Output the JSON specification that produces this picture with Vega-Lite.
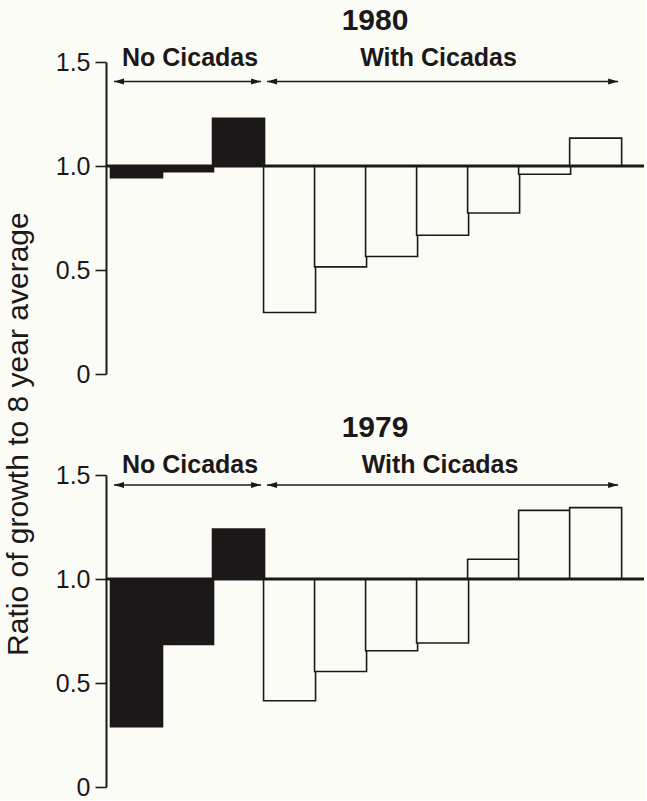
{
  "$schema": "https://vega.github.io/schema/vega-lite/v6.json",
  "background": "#fcfcf7",
  "padding": {"left": 4, "top": 6, "right": 0, "bottom": 0},
  "config": {
    "view": {"stroke": null},
    "font": "Liberation Sans",
    "axisY": {
      "domainColor": "#1c1819", "domainWidth": 2,
      "tickColor": "#1c1819", "tickWidth": 1.6, "tickSize": 11,
      "labelColor": "#1c1819", "labelFontSize": 25, "labelFont": "Liberation Sans",
      "labelPadding": 5, "grid": false
    }
  },
  "title": {"text": "Ratio of growth to 8 year average", "orient": "left", "anchor": "middle", "fontSize": 30, "fontWeight": "normal", "font": "Liberation Sans", "color": "#1c1819", "offset": 21, "dx": -31},
  "datasets": {
    "bars": [
      {"year": 1980, "pos": 1, "ratio": 0.944, "cicadas": "No"},
      {"year": 1980, "pos": 2, "ratio": 0.973, "cicadas": "No"},
      {"year": 1980, "pos": 3, "ratio": 1.229, "cicadas": "No"},
      {"year": 1980, "pos": 4, "ratio": 0.296, "cicadas": "With"},
      {"year": 1980, "pos": 5, "ratio": 0.515, "cicadas": "With"},
      {"year": 1980, "pos": 6, "ratio": 0.565, "cicadas": "With"},
      {"year": 1980, "pos": 7, "ratio": 0.667, "cicadas": "With"},
      {"year": 1980, "pos": 8, "ratio": 0.774, "cicadas": "With"},
      {"year": 1980, "pos": 9, "ratio": 0.96, "cicadas": "With"},
      {"year": 1980, "pos": 10, "ratio": 1.134, "cicadas": "With"},
      {"year": 1979, "pos": 1, "ratio": 0.29, "cicadas": "No"},
      {"year": 1979, "pos": 2, "ratio": 0.685, "cicadas": "No"},
      {"year": 1979, "pos": 3, "ratio": 1.24, "cicadas": "No"},
      {"year": 1979, "pos": 4, "ratio": 0.415, "cicadas": "With"},
      {"year": 1979, "pos": 5, "ratio": 0.555, "cicadas": "With"},
      {"year": 1979, "pos": 6, "ratio": 0.655, "cicadas": "With"},
      {"year": 1979, "pos": 7, "ratio": 0.692, "cicadas": "With"},
      {"year": 1979, "pos": 8, "ratio": 1.095, "cicadas": "With"},
      {"year": 1979, "pos": 9, "ratio": 1.33, "cicadas": "With"},
      {"year": 1979, "pos": 10, "ratio": 1.343, "cicadas": "With"}
    ],
    "groups": [
      {"year": 1980, "label": "No Cicadas", "first": 0.5, "last": 3.5, "mid": 2.05},
      {"year": 1980, "label": "With Cicadas", "first": 3.5, "last": 10.5, "mid": 6.92},
      {"year": 1979, "label": "No Cicadas", "first": 0.5, "last": 3.5, "mid": 2.05},
      {"year": 1979, "label": "With Cicadas", "first": 3.5, "last": 10.5, "mid": 6.95}
    ]
  },
  "align": "all",
  "bounds": "flush",
  "spacing": 101,
  "vconcat": [
    {
      "width": 538, "height": 312,
      "title": {"text": "1980", "fontSize": 30, "fontWeight": "bold", "font": "Liberation Sans", "color": "#1c1819", "anchor": "middle", "offset": 10},
      "layer": [
        {
          "data": {"name": "bars"},
          "transform": [{"filter": "datum.year == 1980"}],
          "mark": {"type": "bar", "size": 52, "stroke": "#1c1819", "strokeWidth": 1.6},
          "encoding": {
            "x": {"field": "pos", "type": "quantitative", "scale": {"domain": [0.5, 10.85], "nice": false, "zero": false}, "axis": null},
            "y": {"field": "ratio", "type": "quantitative", "scale": {"domain": [0, 1.5], "nice": false}, "axis": {"title": null, "values": [0, 0.5, 1, 1.5], "labelExpr": "datum.value == 0 ? '0' : format(datum.value, '.1f')"}},
            "y2": {"datum": 1},
            "fill": {"field": "cicadas", "type": "nominal", "scale": {"domain": ["No", "With"], "range": ["#1c1819", "#fcfcf7"]}, "legend": null}
          }
        },
        {
          "data": {"values": [{}]},
          "mark": {"type": "rule", "strokeWidth": 3, "color": "#1c1819"},
          "encoding": {"y": {"datum": 1, "type": "quantitative", "title": null}}
        },
        {
          "data": {"name": "groups"},
          "transform": [{"filter": "datum.year == 1980"}],
          "mark": {"type": "rule", "strokeWidth": 1.4, "color": "#1c1819", "xOffset": 3, "x2Offset": -3},
          "encoding": {
            "x": {"field": "first", "type": "quantitative", "axis": null},
            "x2": {"field": "last"},
            "y": {"datum": 1.406, "type": "quantitative", "title": null}
          }
        },
        {
          "data": {"name": "groups"},
          "transform": [{"filter": "datum.year == 1980"}],
          "mark": {"type": "point", "shape": "M0,0L2,-0.6L2,0.6Z", "size": 100, "filled": true, "opacity": 1, "color": "#1c1819", "xOffset": 3},
          "encoding": {
            "x": {"field": "first", "type": "quantitative", "axis": null},
            "y": {"datum": 1.406, "type": "quantitative", "title": null}
          }
        },
        {
          "data": {"name": "groups"},
          "transform": [{"filter": "datum.year == 1980"}],
          "mark": {"type": "point", "shape": "M0,0L-2,-0.6L-2,0.6Z", "size": 100, "filled": true, "opacity": 1, "color": "#1c1819", "xOffset": -3},
          "encoding": {
            "x": {"field": "last", "type": "quantitative", "axis": null},
            "y": {"datum": 1.406, "type": "quantitative", "title": null}
          }
        },
        {
          "data": {"name": "groups"},
          "transform": [{"filter": "datum.year == 1980"}],
          "mark": {"type": "text", "font": "Liberation Sans", "fontWeight": "bold", "fontSize": 25, "baseline": "alphabetic", "align": "center", "color": "#1c1819"},
          "encoding": {
            "x": {"field": "mid", "type": "quantitative", "axis": null},
            "y": {"datum": 1.48, "type": "quantitative", "title": null},
            "text": {"field": "label"}
          }
        }
      ]
    },
    {
      "width": 538, "height": 312,
      "title": {"text": "1979", "fontSize": 30, "fontWeight": "bold", "font": "Liberation Sans", "color": "#1c1819", "anchor": "middle", "offset": 10},
      "layer": [
        {
          "data": {"name": "bars"},
          "transform": [{"filter": "datum.year == 1979"}],
          "mark": {"type": "bar", "size": 52, "stroke": "#1c1819", "strokeWidth": 1.6},
          "encoding": {
            "x": {"field": "pos", "type": "quantitative", "scale": {"domain": [0.5, 10.85], "nice": false, "zero": false}, "axis": null},
            "y": {"field": "ratio", "type": "quantitative", "scale": {"domain": [0, 1.5], "nice": false}, "axis": {"title": null, "values": [0, 0.5, 1, 1.5], "labelExpr": "datum.value == 0 ? '0' : format(datum.value, '.1f')"}},
            "y2": {"datum": 1},
            "fill": {"field": "cicadas", "type": "nominal", "scale": {"domain": ["No", "With"], "range": ["#1c1819", "#fcfcf7"]}, "legend": null}
          }
        },
        {
          "data": {"values": [{}]},
          "mark": {"type": "rule", "strokeWidth": 3, "color": "#1c1819"},
          "encoding": {"y": {"datum": 1, "type": "quantitative", "title": null}}
        },
        {
          "data": {"name": "groups"},
          "transform": [{"filter": "datum.year == 1979"}],
          "mark": {"type": "rule", "strokeWidth": 1.4, "color": "#1c1819", "xOffset": 3, "x2Offset": -3},
          "encoding": {
            "x": {"field": "first", "type": "quantitative", "axis": null},
            "x2": {"field": "last"},
            "y": {"datum": 1.452, "type": "quantitative", "title": null}
          }
        },
        {
          "data": {"name": "groups"},
          "transform": [{"filter": "datum.year == 1979"}],
          "mark": {"type": "point", "shape": "M0,0L2,-0.6L2,0.6Z", "size": 100, "filled": true, "opacity": 1, "color": "#1c1819", "xOffset": 3},
          "encoding": {
            "x": {"field": "first", "type": "quantitative", "axis": null},
            "y": {"datum": 1.452, "type": "quantitative", "title": null}
          }
        },
        {
          "data": {"name": "groups"},
          "transform": [{"filter": "datum.year == 1979"}],
          "mark": {"type": "point", "shape": "M0,0L-2,-0.6L-2,0.6Z", "size": 100, "filled": true, "opacity": 1, "color": "#1c1819", "xOffset": -3},
          "encoding": {
            "x": {"field": "last", "type": "quantitative", "axis": null},
            "y": {"datum": 1.452, "type": "quantitative", "title": null}
          }
        },
        {
          "data": {"name": "groups"},
          "transform": [{"filter": "datum.year == 1979"}],
          "mark": {"type": "text", "font": "Liberation Sans", "fontWeight": "bold", "fontSize": 25, "baseline": "alphabetic", "align": "center", "color": "#1c1819"},
          "encoding": {
            "x": {"field": "mid", "type": "quantitative", "axis": null},
            "y": {"datum": 1.51, "type": "quantitative", "title": null},
            "text": {"field": "label"}
          }
        }
      ]
    }
  ]
}
